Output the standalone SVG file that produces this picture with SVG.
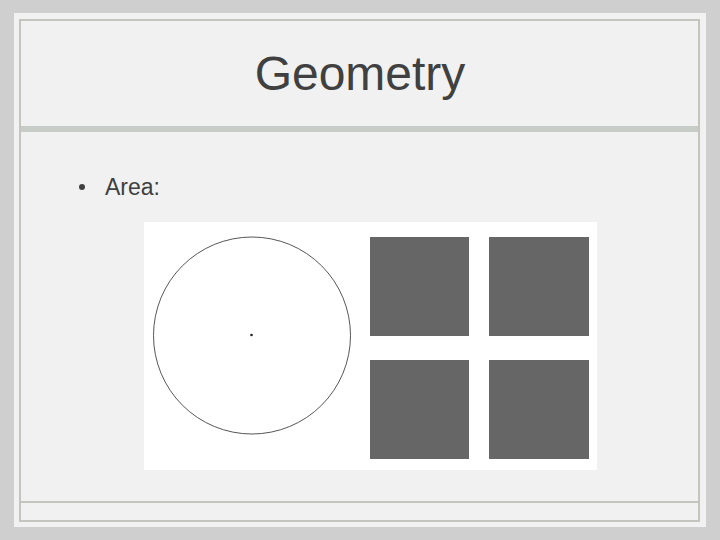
<svg xmlns="http://www.w3.org/2000/svg" width="720" height="540" viewBox="0 0 720 540">
<style>
.line{stroke:#c4c5bf;stroke-width:2;fill:none}
.sq{fill:#666666}
.txt{font-family:"Liberation Sans",Arial,sans-serif;fill:#404040}
</style>
<rect x="0" y="0" width="720" height="540" fill="#cfcfcf"/>
<rect x="14" y="13" width="692" height="514" fill="#f1f1f1"/>
<rect class="line" x="20" y="20" width="679" height="501"/>
<rect x="21" y="126" width="677" height="6" fill="#c8ccc9"/>
<line class="line" x1="21" y1="502" x2="698" y2="502"/>
<g id="title">
<text class="txt" x="360" y="90" font-size="48" text-anchor="middle">Geometry</text>
</g>
<g id="bullet">
<circle cx="82" cy="187" r="3" fill="#404040"/>
<text class="txt" x="105" y="195" font-size="23">Area:</text>
</g>
<g id="figure">
<rect x="144" y="222" width="453" height="248" fill="#ffffff"/>
<circle cx="252" cy="335.5" r="98.5" fill="none" stroke="#444444" stroke-width="0.9"/>
<circle cx="251.5" cy="335" r="1.3" fill="#222222"/>
<rect class="sq" x="370" y="237" width="99" height="99"/>
<rect class="sq" x="489" y="237" width="100" height="99"/>
<rect class="sq" x="370" y="360" width="99" height="99"/>
<rect class="sq" x="489" y="360" width="100" height="99"/>
</g>
</svg>
